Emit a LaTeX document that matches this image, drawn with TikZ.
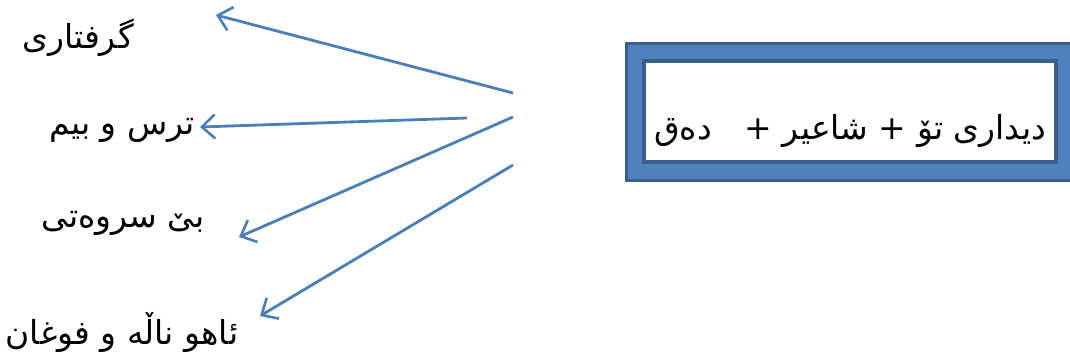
\documentclass[tikz,border=0pt]{standalone}
\usepackage{fontspec}
\usetikzlibrary{arrows.meta}
\newfontfamily\ku[Script=Arabic]{DejaVu Sans}
\TeXXeTstate=1
\definecolor{arrowblue}{HTML}{4A7EBB}
\definecolor{boxblue}{HTML}{4F81BD}
\definecolor{boxdark}{HTML}{3A5F8B}
\tikzset{
  conn/.style={draw=arrowblue, line width=2.8pt, -{Straight Barb[length=13pt,width=24pt,line width=2.6pt]}},
  lbl/.style={font=\ku\fontsize{33}{36}\selectfont, inner sep=0pt},
}
\begin{document}
\begin{tikzpicture}[x=1pt,y=-1pt]
\useasboundingbox (0,0) rectangle (1070,363);
% box
\path[fill=boxblue, draw=boxdark, line width=3pt] (626,44) rectangle (1080,181);
\path[fill=white, draw=boxdark, line width=4pt] (644,61) rectangle (1056,162);
\node[lbl] (main) at (850,131) {\beginR دیداری تۆ + شاعیر +\hspace{1em}دەق\endR};
% labels
\node[lbl] (l1) at (78,38) {\beginR گرفتاری\endR};
\node[lbl] (l2) at (122,130) {\beginR ترس و بیم\endR};
\node[lbl] (l3) at (123,223) {\beginR بێ سروەتی\endR};
\node[lbl] (l4) at (122,333) {\beginR ئاهو ناڵە و فوغان\endR};
% arrow coordinates
\coordinate (s1) at (513,93);
\coordinate (e1) at (216,15);
\coordinate (s2) at (467,118);
\coordinate (e2) at (200,127);
\coordinate (s3) at (513,117);
\coordinate (e3) at (239,237);
\coordinate (s4) at (513,165);
\coordinate (e4) at (260,316);
\draw[conn] (s1) -- (e1);
\draw[conn] (s2) -- (e2);
\draw[conn] (s3) -- (e3);
\draw[conn] (s4) -- (e4);
\end{tikzpicture}
\end{document}
